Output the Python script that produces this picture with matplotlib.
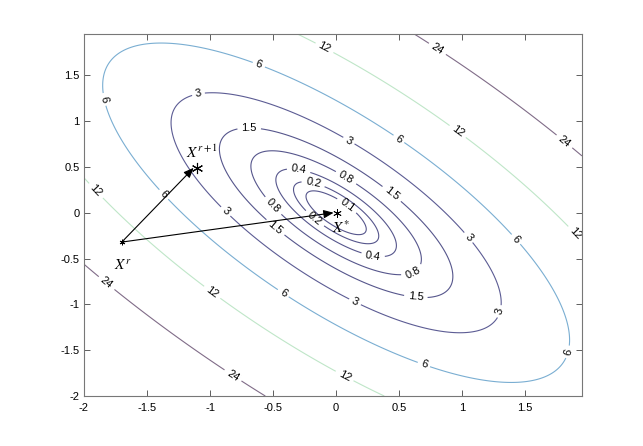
import numpy as np
import matplotlib
matplotlib.use("Agg")
import matplotlib.pyplot as plt

# quadratic f(x, y) = a x^2 + b x y + c y^2
coef_a, coef_b, coef_c = 4.0, 6.0, 4.0
levels = [0.1, 0.2, 0.4, 0.8, 1.5, 3, 6, 12, 24]
level_colors = ['#56568c', '#56568c', '#56568c', '#56568c', '#56568c',
                '#5c5c94', '#7aaed2', '#bfe6c8', '#806c88']
xticks = [-2, -1.5, -1, -0.5, 0, 0.5, 1, 1.5]
yticks = [-2, -1.5, -1, -0.5, 0, 0.5, 1, 1.5]

# label positions per level
lab_01 = [(0.06, 0.03)]
lab_02 = [(-0.18, 0.33), (-0.18, -0.08)]
lab_04 = [(-0.3, 0.44), (0.29, -0.49)]
lab_08 = [(-0.52, 0.05), (0.06, 0.34), (0.61, -0.66)]
lab_15 = [(-0.69, 0.89), (0.42, 0.17), (-0.5, -0.19), (0.63, -0.95)]
lab_3 = [(-1.09, 1.28), (0.09, 0.76), (-0.9, -0.02), (1.05, -0.27), (1.33, -1.09), (0.14, -1.0)]
lab_6 = [(-1.86, 1.23), (-0.62, 1.59), (0.49, 0.79), (-1.39, 0.17), (-0.43, -0.9),
         (1.41, -0.31), (1.87, -1.53), (0.69, -1.68)]
lab_12 = [(-0.1, 1.78), (0.95, 0.86), (1.88, -0.25), (-1.92, 0.22), (-1.0, -0.9), (0.06, -1.8)]
lab_24 = [(0.79, 1.76), (1.8, 0.76), (-1.84, -0.8), (-0.83, -1.8)]
label_sets = [lab_01, lab_02, lab_04, lab_08, lab_15, lab_3, lab_6, lab_12, lab_24]

x_r = (-1.70, -0.32)
x_r1 = (-1.10, 0.49)
x_star = (0.0, 0.0)

grid = np.arange(-2, 1.951, 0.01)
X, Y = np.meshgrid(grid, grid)
Z = coef_a * X**2 + coef_b * X * Y + coef_c * Y**2

fig = plt.figure(figsize=(6.43, 4.46), dpi=100)
ax = fig.add_axes([0.1306, 0.112, 0.7745, 0.8117])
for lev, col, pos in zip(levels, level_colors, label_sets):
    cs = ax.contour(X, Y, Z, levels=[lev], colors=[col], linewidths=0.8)
    lbls = ax.clabel(cs, inline=True, fontsize=8, colors='k',
                     manual=pos, fmt=lambda v: f"{v:g}", inline_spacing=3)
    for t in lbls:
        t.set_family('Liberation Sans')

# arrows
arrow_kw = dict(arrowstyle='-|>,head_length=0.6,head_width=0.25', color='k', lw=0.8,
                shrinkA=0, shrinkB=0)
ax.annotate('', xy=(x_r1[0] - 0.03, x_r1[1]), xytext=x_r, arrowprops=arrow_kw)
ax.annotate('', xy=(x_star[0] - 0.02, x_star[1]), xytext=x_r, arrowprops=arrow_kw)
ax.plot([x_r[0]], [x_r[1]], marker=(6, 2, 0), color='k', ms=4, mew=0.7)
ax.plot([x_r1[0]], [x_r1[1]], marker=(6, 2, 0), color='k', ms=8, mew=0.8)
ax.plot([x_star[0] + 0.01], [x_star[1]], marker=(6, 2, 0), color='k', ms=6, mew=0.6, ls='none')

ax.text(-1.19, 0.60, r'$X^{r+1}$', fontsize=11, family='Liberation Serif', math_fontfamily='stix')
ax.text(-1.76, -0.62, r'$X^{r}$', fontsize=11, family='Liberation Serif', math_fontfamily='stix')
ax.text(-0.03, -0.22, r'$X^{*}$', fontsize=11, family='Liberation Serif', math_fontfamily='stix')

ax.set_xlim(-2, 1.95)
ax.set_ylim(-2, 1.95)
ax.set_xticks(xticks)
ax.set_yticks(yticks)
ax.set_xticklabels([f"{v:g}" for v in xticks], family='Liberation Sans', fontsize=8)
ax.set_yticklabels([f"{v:g}" for v in yticks], family='Liberation Sans', fontsize=8)
ax.tick_params(direction='in', top=True, right=True, length=4, width=0.6,
               colors='#444444', labelcolor='k', pad=3)
ax.tick_params(axis='x', pad=5)
for s in ax.spines.values():
    s.set_color('#777777')
    s.set_linewidth(0.8)

fig.savefig('out.png', dpi=100)
